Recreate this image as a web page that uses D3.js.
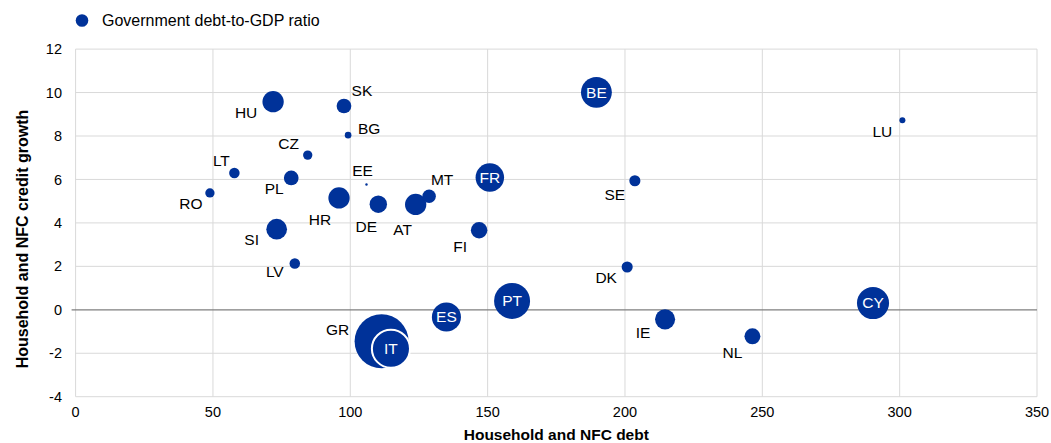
<!DOCTYPE html>
<html>
<head>
<meta charset="utf-8">
<script src="https://cdn.jsdelivr.net/npm/d3@7"></script>
<style>
  html, body { margin: 0; padding: 0; background: #fff; }
  svg { display: block; font-family: "Liberation Sans", Arial, sans-serif; }
</style>
</head>
<body>
<svg id="chart" width="1051" height="443"></svg>
<script>
// ---- Data ----
const countries = ["HU","SK","BG","CZ","LT","PL","RO","HR","EE","DE","AT","MT","FR","FI","SI","LV","GR","IT","ES","PT","BE","LU","SE","DK","CY","IE","NL"];
const debt      = [71.9, 97.7, 99.2, 84.5, 57.8, 78.5, 48.9, 95.9, 105.9, 110.2, 123.8, 128.7, 150.8, 146.9, 73.2, 79.8, 111.4, 114.8, 135.0, 158.9, 189.6, 301.0, 203.6, 200.8, 290.3, 214.6, 246.4];
const growth    = [9.58, 9.38, 8.04, 7.12, 6.30, 6.07, 5.38, 5.15, 5.77, 4.86, 4.85, 5.23, 6.09, 3.66, 3.71, 2.13, -1.45, -1.79, -0.33, 0.41, 10.01, 8.72, 5.94, 1.97, 0.31, -0.44, -1.22];
const govDebt   = [71, 49, 22, 31, 35, 49, 31, 71, 8, 58, 71, 45, 95, 55, 69, 35, 180, 127, 97, 120, 103, 20, 37, 37, 107, 67, 53];
const xTicks = [0, 50, 100, 150, 200, 250, 300, 350];
const yTicks = [-4, -2, 0, 2, 4, 6, 8, 10, 12];
const insideLabels = ["FR","IT","ES","PT","BE","CY"];
// label offsets (dx, dy) relative to bubble centre, for outside labels
const labelOffsets = {
  HU: [-27, 11], SK: [18, -15], BG: [21, -7], CZ: [-19, -12], LT: [-13, -12],
  PL: [-17, 11], RO: [-19, 11], HR: [-19, 22], EE: [-4, -14], DE: [-12, 22],
  AT: [-13, 25], MT: [13, -17], FI: [-19, 16], SI: [-25, 10], LV: [-20, 8],
  GR: [-44, -12], LU: [-20, 11], SE: [-20, 14], DK: [-21, 11], IE: [-22, 13],
  NL: [-20, 16]
};
const legendLabel = "Government debt-to-GDP ratio";
const xTitle = "Household and NFC debt";
const yTitle = "Household and NFC credit growth";

const data = countries.map((c, i) => ({ c, x: debt[i], y: growth[i], s: govDebt[i] }));

// ---- Layout ----
const svg = d3.select("#chart");
const blue = "#003299";
const x = d3.scaleLinear().domain([0, 350]).range([75.6, 1037]);
const y = d3.scaleLinear().domain([-4, 12]).range([396.7, 49.1]);
const r = d3.scaleLinear().domain([0, 180]).range([0, 27]);

// grid
const g = svg.append("g");
g.selectAll(".vgrid").data(xTicks).join("line")
  .attr("x1", d => x(d)).attr("x2", d => x(d))
  .attr("y1", y(12)).attr("y2", y(-4))
  .attr("stroke", "#d9d9d9").attr("stroke-width", 1);
g.selectAll(".hgrid").data(yTicks.filter(d => d !== 0)).join("line")
  .attr("x1", x(0)).attr("x2", x(350))
  .attr("y1", d => y(d)).attr("y2", d => y(d))
  .attr("stroke", "#d9d9d9").attr("stroke-width", 1);
// zero line
g.append("line")
  .attr("x1", x(0) - 4).attr("x2", x(350))
  .attr("y1", y(0)).attr("y2", y(0))
  .attr("stroke", "#7f7f7f").attr("stroke-width", 1.3);

// axes labels (ticks)
svg.append("g").selectAll("text").data(yTicks).join("text")
  .attr("x", 62).attr("y", d => y(d)).attr("dy", "0.35em")
  .attr("text-anchor", "end").attr("font-size", 14.5).attr("fill", "#000")
  .text(d => d);
svg.append("g").selectAll("text").data(xTicks).join("text")
  .attr("x", d => x(d)).attr("y", 412).attr("dy", "0.35em")
  .attr("text-anchor", "middle").attr("font-size", 14.5).attr("fill", "#000")
  .text(d => d);

// axis titles
svg.append("text")
  .attr("x", x(175)).attr("y", 435).attr("dy", "0.35em")
  .attr("text-anchor", "middle").attr("font-size", 15.5).attr("font-weight", "bold")
  .text(xTitle);
svg.append("text")
  .attr("transform", `translate(22, 239) rotate(-90)`)
  .attr("dy", "0.35em")
  .attr("text-anchor", "middle").attr("font-size", 16).attr("font-weight", "bold")
  .text(yTitle);

// bubbles
svg.append("g").selectAll("circle").data(data).join("circle")
  .attr("cx", d => x(d.x)).attr("cy", d => y(d.y))
  .attr("r", d => r(d.s))
  .attr("fill", blue)
  .attr("stroke", d => d.c === "IT" ? "#fff" : "none")
  .attr("stroke-width", d => d.c === "IT" ? 2 : 0);

// labels
svg.append("g").selectAll("text").data(data).join("text")
  .attr("x", d => insideLabels.includes(d.c) ? x(d.x) : x(d.x) + labelOffsets[d.c][0])
  .attr("y", d => insideLabels.includes(d.c) ? y(d.y) : y(d.y) + labelOffsets[d.c][1])
  .attr("dy", "0.35em")
  .attr("text-anchor", "middle").attr("font-size", 15.5)
  .attr("fill", d => insideLabels.includes(d.c) ? "#fff" : "#000")
  .text(d => d.c);

// legend
svg.append("circle").attr("cx", 82).attr("cy", 20.5).attr("r", 6.3).attr("fill", blue);
svg.append("text").attr("x", 102).attr("y", 20.5).attr("dy", "0.35em")
  .attr("font-size", 16).text(legendLabel);
</script>
</body>
</html>
